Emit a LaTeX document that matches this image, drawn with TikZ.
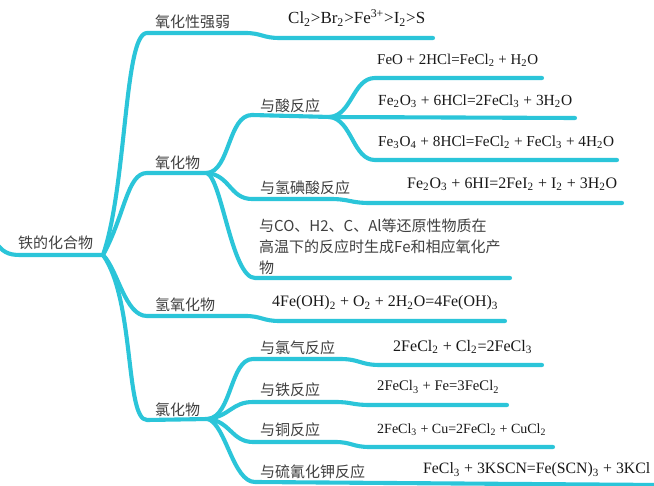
\documentclass[tikz,border=0pt]{standalone}
\usepackage{fontspec}
\setmainfont{Liberation Serif}
\newfontfamily\cjk{Noto Sans CJK SC}
\usepackage{graphicx}
\newcommand\sbs[1]{\textsubscript{#1}}
\newcommand\sps[1]{\textsuperscript{#1}}
\definecolor{branch}{HTML}{2BC5D9}
\definecolor{lbl}{HTML}{404040}
\tikzset{
  br/.style={draw=branch, line width=4.1pt, line cap=round, line join=round},
  lab/.style={anchor=west, inner sep=0pt, text=lbl, font=\cjk\fontsize{15}{20}\selectfont},
  fml/.style={anchor=west, inner sep=0pt, text=black!90},
}
\begin{document}
\begin{tikzpicture}[x=1pt,y=-1pt]
\fill[white] (0,0) rectangle (654,486);
\useasboundingbox (0,0) rectangle (654,486);
% junction coordinates
\coordinate (r0) at (-6,240);
\coordinate (rj) at (103,255);
\coordinate (oj) at (207,173);
\coordinate (aj) at (330,117);
\coordinate (cj) at (208,419);
% root
\node[lab] (root) at (18,243) {铁的化合物};
\draw[br] (r0) .. controls (2,252) and (8,255) .. (20,255) -- (rj);
% level 1 labels
\node[lab] (n1) at (155,22) {氧化性强弱};
\node[lab] (n2) at (155,163) {氧化物};
\node[lab] (n3) at (155,305) {氢氧化物};
\node[lab] (n4) at (155,410) {氯化物};
% level 1 branches
\coordinate (e1) at (433,38);
\draw[br] (rj) .. controls (127,185) and (124,33) .. (147,33) -- (245,33)
  .. controls (262,33) and (262,38) .. (280,38) -- (e1);
\draw[br] (rj) .. controls (125,215) and (127,173) .. (147,173) -- (oj);
\coordinate (e3) at (505,321);
\draw[br] (rj) .. controls (118,270) and (125,316) .. (147,316) -- (245,316)
  .. controls (262,316) and (262,321) .. (280,321) -- (e3);
\draw[br] (rj) .. controls (135,300) and (125,420) .. (147,420) -- (cj);
% oxides
\node[lab] (a1) at (260,106) {与酸反应};
\node[lab] (a2) at (260,188) {与氢碘酸反应};
\node[lab, align=left, font=\cjk\fontsize{15}{21}\selectfont] (a3) at (259,247)
  {与CO、H2、C、Al等还原性物质在\\高温下的反应时生成Fe和相应氧化产\\物};
\draw[br] (oj) .. controls (230,171) and (228,115) .. (252,115) -- (aj);
\coordinate (e5) at (622,203);
\draw[br] (oj) .. controls (230,175) and (230,199) .. (252,199) -- (330,199)
  .. controls (350,199) and (350,203) .. (370,203) -- (e5);
\coordinate (e6) at (510,278);
\draw[br] (oj) .. controls (222,180) and (232,278) .. (255,278) -- (e6);
% acid reactions
\coordinate (e2a) at (542,78);
\coordinate (e2b) at (575,118);
\coordinate (e2c) at (617,160);
\draw[br] (aj) .. controls (352,115) and (353,78) .. (375,78) -- (e2a);
\draw[br] (aj) -- (e2b);
\draw[br] (aj) .. controls (352,120) and (353,160) .. (375,160) -- (e2c);
% chlorides
\node[lab] (c1) at (260,348) {与氯气反应};
\node[lab] (c2) at (260,390) {与铁反应};
\node[lab] (c3) at (260,430) {与铜反应};
\node[lab] (c4) at (260,472) {与硫氰化钾反应};
\coordinate (e7) at (542,365);
\coordinate (e8) at (507,405);
\coordinate (e9) at (553,447);
\coordinate (e10) at (660,485);
\draw[br] (cj) .. controls (232,416) and (230,359) .. (253,359) -- (340,359)
  .. controls (360,359) and (360,365) .. (380,365) -- (e7);
\draw[br] (cj) .. controls (230,416) and (232,402) .. (253,402) -- (335,402)
  .. controls (352,402) and (352,405) .. (370,405) -- (e8);
\draw[br] (cj) .. controls (230,421) and (232,442) .. (253,442) -- (335,442)
  .. controls (352,442) and (352,447) .. (370,447) -- (e9);
\draw[br] (cj) .. controls (226,425) and (233,482) .. (255,482) -- (e10);
% formulas
\node[fml] (f1) at (288,18) {\resizebox{137pt}{!}{Cl\sbs{2}>Br\sbs{2}>Fe\sps{3+}>I\sbs{2}>S}};
\node[fml] (f2) at (377,60) {\resizebox{161pt}{!}{FeO + 2HCl=FeCl\sbs{2} + H\sbs{2}O}};
\node[fml] (f3) at (378,101) {\resizebox{194pt}{!}{Fe\sbs{2}O\sbs{3} + 6HCl=2FeCl\sbs{3} + 3H\sbs{2}O}};
\node[fml] (f4) at (378,142) {\resizebox{236pt}{!}{Fe\sbs{3}O\sbs{4} + 8HCl=FeCl\sbs{2} + FeCl\sbs{3} + 4H\sbs{2}O}};
\node[fml] (f5) at (407,184) {\resizebox{210pt}{!}{Fe\sbs{2}O\sbs{3} + 6HI=2FeI\sbs{2} + I\sbs{2} + 3H\sbs{2}O}};
\node[fml] (f6) at (272,303) {\resizebox{226pt}{!}{4Fe(OH)\sbs{2} + O\sbs{2} + 2H\sbs{2}O=4Fe(OH)\sbs{3}}};
\node[fml] (f7) at (393,347) {\resizebox{139pt}{!}{2FeCl\sbs{2} + Cl\sbs{2}=2FeCl\sbs{3}}};
\node[fml] (f8) at (377,387) {\resizebox{122pt}{!}{2FeCl\sbs{3} + Fe=3FeCl\sbs{2}}};
\node[fml] (f9) at (377,430) {\resizebox{169pt}{!}{2FeCl\sbs{3} + Cu=2FeCl\sbs{2} + CuCl\sbs{2}}};
\node[fml] (f10) at (423,470) {\resizebox{227pt}{!}{FeCl\sbs{3} + 3KSCN=Fe(SCN)\sbs{3} + 3KCl}};
\end{tikzpicture}
\end{document}
